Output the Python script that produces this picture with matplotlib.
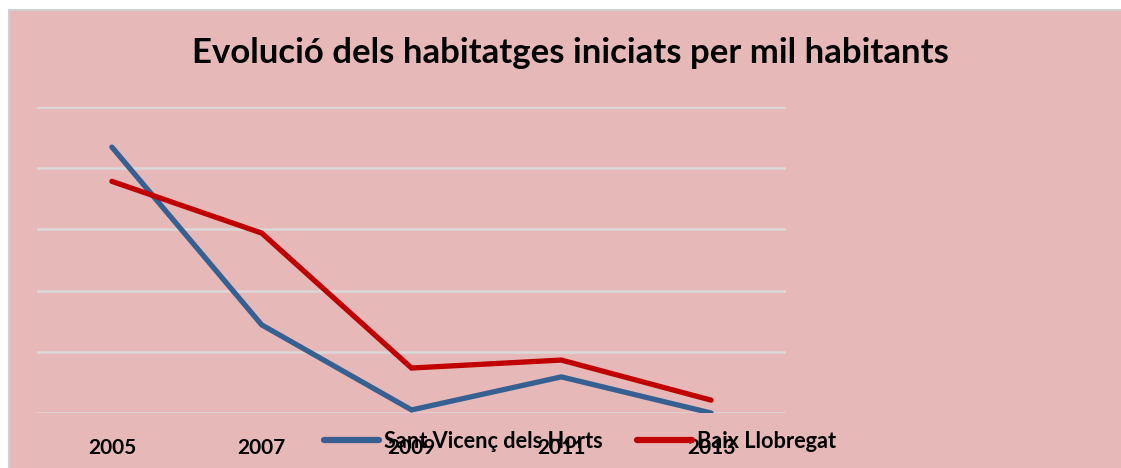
import matplotlib
matplotlib.use("Agg")
import matplotlib.pyplot as plt
from matplotlib.patches import Rectangle

years = ["2005", "2007", "2009", "2011", "2013"]
sant_vicenc = [8.69, 2.88, 0.10, 1.18, 0.0]
baix_llobregat = [7.57, 5.88, 1.47, 1.73, 0.42]
series_names = ["Sant Vicenç dels Horts", "Baix Llobregat"]
title = "Evolució dels habitatges iniciats per mil habitants"

W, H = 1121, 468
fig = plt.figure(figsize=(W / 100, H / 100), dpi=100)
fig.patch.set_facecolor("white")
bg = "#E6B8B7"
fig.patches.append(Rectangle((9 / W, -0.1), 1.2, (H - 10) / H + 0.1,
                             transform=fig.transFigure, facecolor=bg,
                             edgecolor="#D0D0D0", linewidth=1.5, zorder=-5))

ax = fig.add_axes([37 / W, 1 - 413 / H, (786 - 37) / W, (413 - 107) / H])
ax.set_zorder(2)
ax.set_facecolor("none")
x = list(range(len(years)))
ax.plot(x, sant_vicenc, color="#376092", lw=3.8, solid_capstyle="round",
        solid_joinstyle="miter", label=series_names[0], zorder=3)
ax.plot(x, baix_llobregat, color="#C00000", lw=3.8, solid_capstyle="round",
        solid_joinstyle="miter", label=series_names[1], zorder=3)
ax.set_xlim(-0.5, 4.5)
ax.set_ylim(0, 10)
ax.set_yticks([0, 2, 4, 6, 8, 10])
ax.yaxis.grid(True, color="#D9D9D9", lw=1.8)
ax.set_axisbelow(True)
ax.tick_params(axis="y", left=False, labelleft=False)
ax.set_xticks(x)
ax.set_xticklabels(years, fontfamily="Lato", fontweight="bold", fontsize=15)
ax.tick_params(axis="x", length=0, pad=18)
for s in ax.spines.values():
    s.set_visible(False)

fig.text(570 / W, 1 - 53 / H, title, ha="center", va="center",
         fontfamily="Lato", fontweight="bold", fontsize=25)

leg = ax.legend(loc="center", bbox_to_anchor=(580 / W, 1 - 441 / H),
                bbox_transform=fig.transFigure, ncol=2, frameon=False,
                prop={"family": "Lato", "weight": "bold", "size": 15.7},
                handlelength=2.5, handletextpad=0.23, columnspacing=1.6)
for h in leg.get_lines():
    h.set_linewidth(4.5)
    h.set_solid_capstyle("round")

fig.savefig("out.png", dpi=100, facecolor=fig.get_facecolor())
